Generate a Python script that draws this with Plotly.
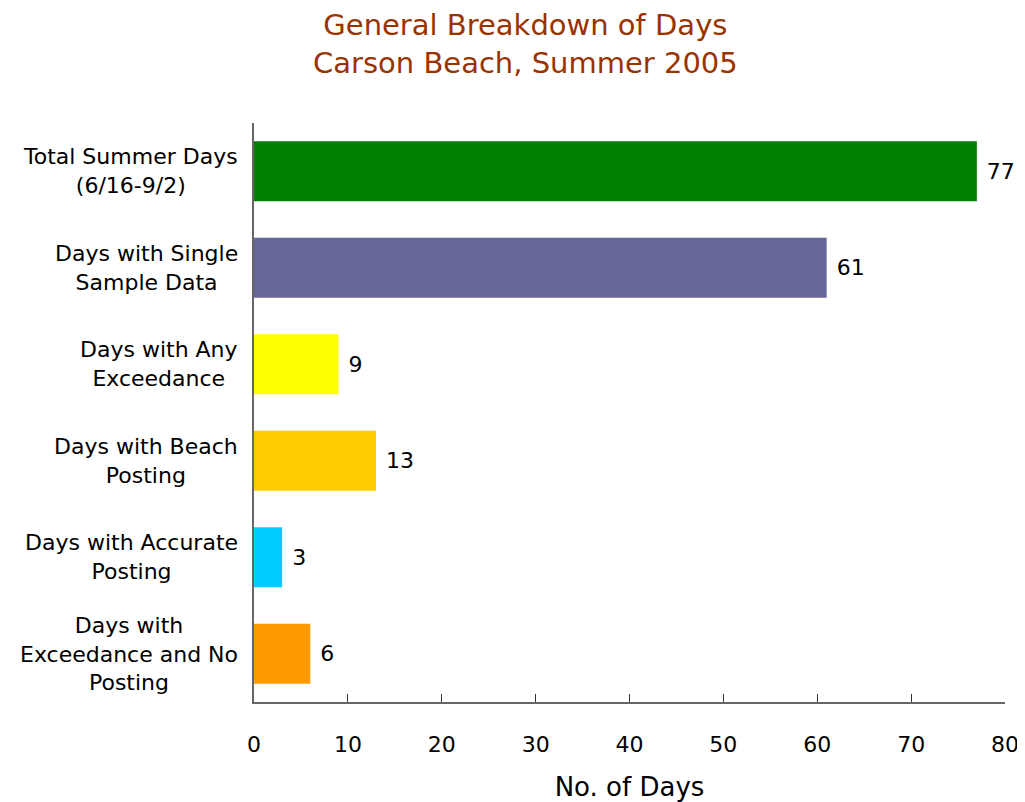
import plotly.graph_objects as go

categories = [
    "Total Summer Days<br>(6/16-9/2)",
    "Days with Single<br>Sample Data",
    "Days with Any<br>Exceedance",
    "Days with Beach<br>Posting",
    "Days with Accurate<br>Posting",
    "Days with<br>Exceedance and No<br>Posting",
]
days = [77, 61, 9, 13, 3, 6]
bar_colors = ["#008000", "#666699", "#FFFF00", "#FFCC00", "#00CCFF", "#FF9900"]
x_ticks = [0, 10, 20, 30, 40, 50, 60, 70, 80]

font_family = "DejaVu Sans"

fig = go.Figure()
fig.add_trace(go.Bar(
    x=days,
    y=categories,
    orientation="h",
    marker=dict(color=bar_colors, line=dict(width=0)),
    text=[f" {d}" for d in days],
    textposition="outside",
    textfont=dict(family=font_family, size=22, color="black"),
    cliponaxis=False,
))

# category labels as centered multi-line blocks, right-aligned to the axis
for c in categories:
    fig.add_annotation(
        x=0, xref="paper", y=c, yref="y",
        text=c, showarrow=False,
        xanchor="right", align="center", xshift=-14,
        font=dict(family=font_family, size=22, color="black"),
    )

# two-line title
fig.add_annotation(
    x=0.361, xref="paper", y=1.1373, yref="paper",
    text="General Breakdown of Days<br>Carson Beach, Summer 2005",
    showarrow=False, xanchor="center", yanchor="middle", align="center",
    font=dict(family=font_family, size=29, color="#993300"),
)

# page body adds an 8px offset, so the figure is sized to fit the window
fig.update_layout(
    width=1017, height=794,
    margin=dict(l=246, r=20, t=115, b=100),
    paper_bgcolor="white", plot_bgcolor="white",
    bargap=0.38,
    showlegend=False,
    font=dict(family=font_family, color="black"),
)

fig.update_xaxes(
    range=[0, 80], tickvals=x_ticks,
    showline=True, linecolor="#666666", linewidth=2,
    ticks="inside", ticklen=8, tickcolor="#333333",
    showgrid=False, zeroline=False, automargin=False,
    tickfont=dict(family=font_family, size=22),
    ticklabelstandoff=22,
    title=dict(text="No. of Days", font=dict(family=font_family, size=26), standoff=22),
)
fig.update_yaxes(
    autorange="reversed",
    showline=True, linecolor="#666666", linewidth=2,
    showticklabels=False, ticks="",
    showgrid=False, zeroline=False, automargin=False,
)

fig.write_html("out.html")
